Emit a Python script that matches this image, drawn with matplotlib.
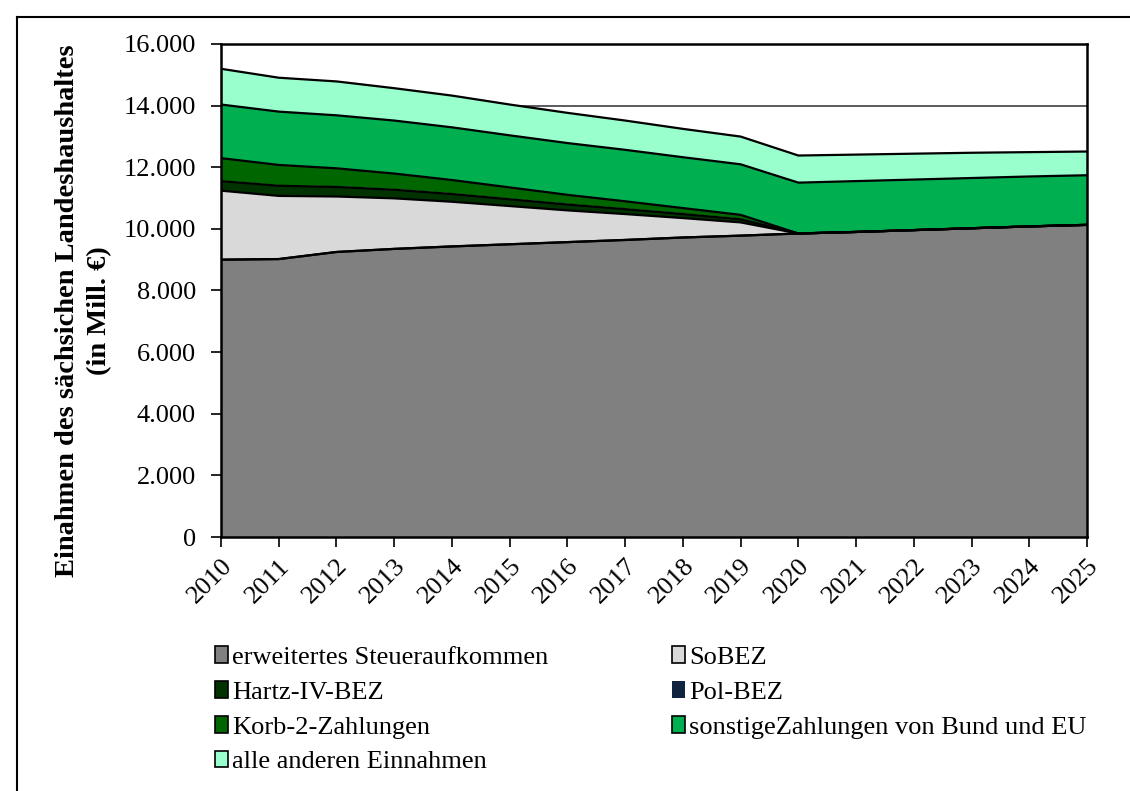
import numpy as np
import matplotlib
matplotlib.use("Agg")
from matplotlib import pyplot as plt
from matplotlib.ticker import FuncFormatter
from matplotlib.patches import Patch

plt.rcParams['font.family'] = ['Liberation Serif', 'DejaVu Serif']

years = list(range(2010, 2026))
steuer = [9000, 9020, 9250, 9350, 9430, 9500, 9570, 9640, 9720, 9780,
          9850, 9900, 9960, 10020, 10080, 10130]
sobez = [2240, 2050, 1800, 1640, 1450, 1240, 1030, 840, 630, 430,
         0, 0, 0, 0, 0, 0]
hartz = [310, 330, 310, 280, 250, 220, 190, 160, 130, 100,
         0, 0, 0, 0, 0, 0]
polbez = [25, 25, 25, 25, 25, 25, 25, 25, 25, 25,
          0, 0, 0, 0, 0, 0]
korb2 = [720, 650, 580, 500, 430, 360, 290, 230, 170, 120,
         0, 0, 0, 0, 0, 0]
sonstige = [1740, 1730, 1720, 1720, 1710, 1690, 1680, 1670, 1650, 1640,
            1650, 1650, 1640, 1630, 1620, 1610]
andere = [1160, 1100, 1100, 1050, 1030, 1000, 980, 950, 920, 900,
          880, 860, 840, 820, 790, 770]

names = ["erweitertes Steueraufkommen", "SoBEZ", "Hartz-IV-BEZ", "Pol-BEZ",
         "Korb-2-Zahlungen", "sonstigeZahlungen von Bund und EU",
         "alle anderen Einnahmen"]
colors = ["#808080", "#D9D9D9", "#003300", "#0F243E", "#006600", "#00B050", "#99FFCC"]
series = [steuer, sobez, hartz, polbez, korb2, sonstige, andere]

fig = plt.figure(figsize=(11.3, 7.91), dpi=100)
ax = fig.add_axes([0.1956, 0.3211, 0.7664, 0.6233])

x = np.arange(len(years))
bottom = np.zeros(len(years))
handles = []
for name, col, vals in zip(names, colors, series):
    top = bottom + np.array(vals, dtype=float)
    ec = "none" if name == "Pol-BEZ" else "black"
    ax.fill_between(x, bottom, top, facecolor=col, edgecolor="none", zorder=2)
    if name != "Pol-BEZ":
        ax.plot(x, top, color="black", lw=1.6, zorder=3)
    handles.append(Patch(facecolor=col, edgecolor=ec, linewidth=1.2, label=name))
    bottom = top
ax.plot(x, steuer, color="black", lw=1.6, zorder=3)

ax.set_xlim(0, len(years) - 1)
ax.set_ylim(0, 16000)
ax.set_yticks(range(0, 16001, 2000))
ax.yaxis.set_major_formatter(FuncFormatter(lambda v, p: f"{int(v):,}".replace(",", ".")))
ax.set_xticks(x)
ax.set_xticklabels([str(y) for y in years], rotation=45, ha="right",
                   rotation_mode="anchor", fontsize=19)
ax.tick_params(axis="y", labelsize=19, direction="out", length=7, width=1.2, pad=11)
ax.tick_params(axis="x", direction="out", length=7, width=1.2, pad=6)
ax.grid(axis="y", color="#404040", lw=1.2, zorder=0)
ax.set_axisbelow(True)
for s in ax.spines.values():
    s.set_linewidth(1.8)
    s.set_zorder(4)

ax.set_ylabel("Einahmen des sächsichen Landeshaushaltes\n(in Mill. €)",
              fontsize=20.5, fontweight="bold", linespacing=1.35)
ax.yaxis.set_label_coords(-0.126, 0.46)

# legend row-wise order like the original
order = [0, 2, 4, 6, 1, 3, 5]
leg = fig.legend([handles[i] for i in order], [names[i] for i in order],
                 ncol=2, loc="upper left", bbox_to_anchor=(0.19, 0.183),
                 frameon=False, fontsize=19, handlelength=0.5, handleheight=0.6,
                 handletextpad=0.15, columnspacing=4.7, labelspacing=0.46,
                 borderaxespad=0, borderpad=0)

# outer chart frame
fig.add_artist(plt.Line2D([0.015, 0.015], [0.0, 0.979], color="black", lw=1.5,
                          transform=fig.transFigure))
fig.add_artist(plt.Line2D([0.015, 1.0], [0.979, 0.979], color="black", lw=1.5,
                          transform=fig.transFigure))

fig.savefig("out.png", dpi=100)
